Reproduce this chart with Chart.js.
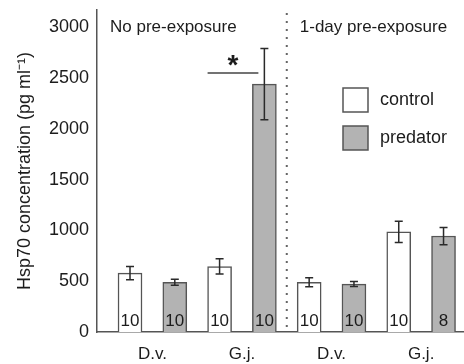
<!DOCTYPE html>
<html>
<head>
<meta charset="utf-8">
<script src="https://cdn.jsdelivr.net/npm/chart.js@4.4.1/dist/chart.umd.min.js"></script>
<style>
  body { margin: 0; background: #fff; }
  canvas { display: block; }
</style>
</head>
<body>
<canvas id="chart" width="464" height="364"></canvas>
<script>
// Hsp70 concentration by species, treatment and pre-exposure
const groupLabels = ['D.v.', 'G.j.', 'D.v.', 'G.j.'];
const panelTitles = ['No pre-exposure', '1-day pre-exposure'];
const seriesNames = ['control', 'predator'];

const controlMean = [580, 645, 490, 985];
const controlErr = [65, 75, 45, 105];
const controlN = [10, 10, 10, 10];

const predatorMean = [490, 2440, 472, 945];
const predatorErr = [30, 350, 25, 85];
const predatorN = [10, 10, 10, 8];

const yTicks = [0, 500, 1000, 1500, 2000, 2500, 3000];

const FONT = 'Liberation Sans, Arial, Helvetica, sans-serif';
const INK = '#1c1c1c';
const EDGE = '#555555';

Chart.defaults.font.family = FONT;
Chart.defaults.color = INK;

// control bars sit at even slots, predator bars at odd slots
const controlPts = controlMean.map((v, i) => ({ x: 2 * i, y: v }));
const predatorPts = predatorMean.map((v, i) => ({ x: 2 * i + 1, y: v }));
const groupCenters = groupLabels.map((g, i) => 2 * i + 0.5);

const extras = {
    id: 'extras',
    afterDatasetsDraw(chart) {
        const ctx = chart.ctx;
        const xs = chart.scales.x;
        const ys = chart.scales.y;
        const area = chart.chartArea;

        // error bars and sample sizes
        const sets = [
            { pts: controlPts, err: controlErr, n: controlN },
            { pts: predatorPts, err: predatorErr, n: predatorN }
        ];
        ctx.save();
        sets.forEach(s => {
            s.pts.forEach((p, i) => {
                const cx = xs.getPixelForValue(p.x);
                const top = ys.getPixelForValue(p.y + s.err[i]);
                const bot = ys.getPixelForValue(p.y - s.err[i]);
                ctx.strokeStyle = '#2a2a2a';
                ctx.lineWidth = 1.5;
                ctx.beginPath();
                ctx.moveTo(cx, top); ctx.lineTo(cx, bot);
                ctx.moveTo(cx - 4, top); ctx.lineTo(cx + 4, top);
                ctx.moveTo(cx - 4, bot); ctx.lineTo(cx + 4, bot);
                ctx.stroke();

                ctx.fillStyle = INK;
                ctx.font = '17px ' + FONT;
                ctx.textAlign = 'center';
                ctx.textBaseline = 'alphabetic';
                ctx.fillText(String(s.n[i]), cx, area.bottom - 6);
            });
        });

        // dotted divider between the two panels
        const divX = xs.getPixelForValue(3.5);
        ctx.strokeStyle = '#666';
        ctx.lineWidth = 2;
        ctx.setLineDash([2, 6]);
        ctx.beginPath();
        ctx.moveTo(divX, area.top + 3);
        ctx.lineTo(divX, area.bottom);
        ctx.stroke();
        ctx.setLineDash([]);

        // panel titles
        ctx.fillStyle = INK;
        ctx.font = '17px ' + FONT;
        ctx.textAlign = 'left';
        ctx.textBaseline = 'middle';
        ctx.fillText(panelTitles[0], area.left + 13, area.top + 17);
        ctx.fillText(panelTitles[1], divX + 13, area.top + 17);

        // significance marker over G.j. (no pre-exposure)
        const sigY = ys.getPixelForValue(2550);
        const x1 = xs.getPixelForValue(controlPts[1].x) - 12;
        const x2 = xs.getPixelForValue(predatorPts[1].x) - 6;
        ctx.strokeStyle = '#444';
        ctx.lineWidth = 1.5;
        ctx.beginPath();
        ctx.moveTo(x1, sigY); ctx.lineTo(x2, sigY);
        ctx.stroke();
        ctx.font = 'bold 28px ' + FONT;
        ctx.textAlign = 'center';
        ctx.textBaseline = 'alphabetic';
        ctx.fillText('*', (x1 + x2) / 2, sigY + 1);

        // legend
        const lx = 343, ly = 88;
        chart.data.datasets.forEach((ds, i) => {
            const by = ly + i * 38;
            ctx.fillStyle = ds.backgroundColor;
            ctx.fillRect(lx, by, 25, 24);
            ctx.strokeStyle = EDGE;
            ctx.lineWidth = 1.5;
            ctx.strokeRect(lx, by, 25, 24);
            ctx.fillStyle = INK;
            ctx.font = '18px ' + FONT;
            ctx.textAlign = 'left';
            ctx.textBaseline = 'middle';
            ctx.fillText(ds.label, lx + 37, by + 12);
        });
        ctx.restore();
    }
};

new Chart(document.getElementById('chart'), {
    type: 'bar',
    data: {
        datasets: [{
            label: seriesNames[0],
            data: controlPts,
            backgroundColor: '#ffffff',
            borderColor: EDGE,
            borderWidth: 1.5,
            barThickness: 24,
            grouped: false
        }, {
            label: seriesNames[1],
            data: predatorPts,
            backgroundColor: '#b3b3b3',
            borderColor: EDGE,
            borderWidth: 1.5,
            barThickness: 24,
            grouped: false
        }]
    },
    options: {
        responsive: false,
        devicePixelRatio: 1,
        animation: false,
        layout: { padding: { top: 10, right: 0, bottom: 0, left: 0 } },
        plugins: {
            legend: { display: false },
            tooltip: { enabled: false }
        },
        scales: {
            x: {
                type: 'linear',
                offset: false,
                min: -0.737,
                max: 7.457,
                grid: { display: false, drawTicks: false, offset: false },
                border: { color: EDGE, width: 1.5 },
                afterBuildTicks: (s) => {
                    s.ticks = groupCenters.map(v => ({ value: v }));
                },
                ticks: {
                    autoSkip: false,
                    maxRotation: 0,
                    padding: 12,
                    color: INK,
                    font: { size: 17 },
                    callback: (value) => groupLabels[groupCenters.indexOf(value)]
                },
                afterFit: (s) => { s.height = 32; }
            },
            y: {
                min: 0,
                max: 3170,
                grid: { display: false, drawTicks: false },
                border: { color: EDGE, width: 1.5 },
                afterBuildTicks: (s) => {
                    s.ticks = yTicks.map(v => ({ value: v }));
                },
                ticks: {
                    padding: 8,
                    color: INK,
                    font: { size: 18 },
                    callback: (value) => String(value)
                },
                title: {
                    display: true,
                    text: 'Hsp70 concentration (pg ml\u207B\u00B9)',
                    color: INK,
                    font: { size: 18 },
                    padding: { top: 14, bottom: 0 }
                },
                afterFit: (s) => {
                    s.width = 97;
                    s.paddingTop = 0;
                    s.paddingBottom = 0;
                }
            }
        }
    },
    plugins: [extras]
});
</script>
</body>
</html>
